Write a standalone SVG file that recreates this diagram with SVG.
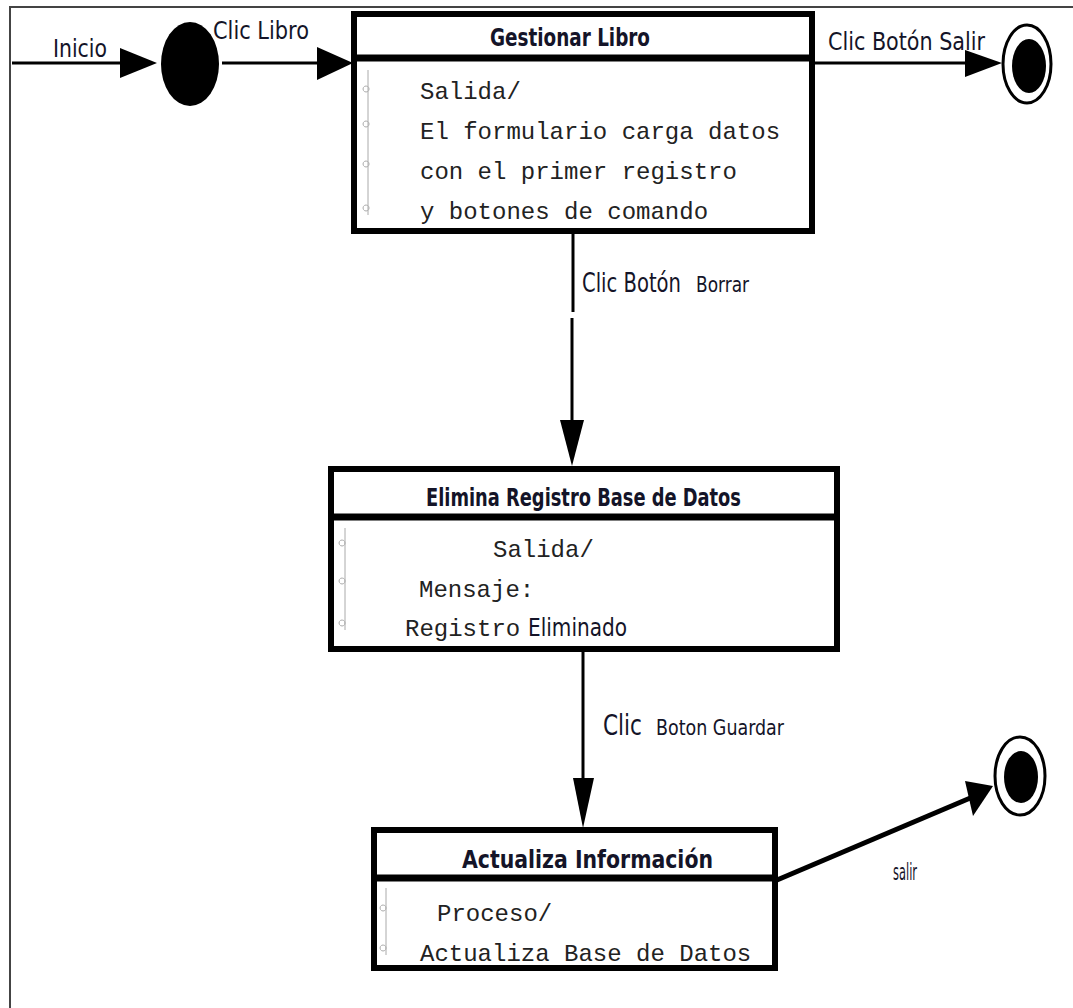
<svg xmlns="http://www.w3.org/2000/svg" width="1073" height="1008" viewBox="0 0 1073 1008">
<style>
.frame{fill:none;stroke:#444;stroke-width:2}
.box{fill:#fff;stroke:#000;stroke-width:6}
.sep{stroke:#000;stroke-width:7}
.ln{stroke:#000;stroke-width:3;fill:none}
.lnb{stroke:#000;stroke-width:5;fill:none}
.ah{fill:#000}
.lbl{font-family:"DejaVu Sans Condensed","DejaVu Sans",sans-serif;fill:#141428}
.hdr{font-family:"DejaVu Sans Condensed","DejaVu Sans",sans-serif;font-weight:bold;fill:#141428;font-size:24px}
.mono{font-family:"Liberation Mono","Courier New",monospace;font-size:24px;fill:#222}
.clip{fill:none;stroke:#aaa;stroke-width:1}
</style>
<rect width="1073" height="1008" fill="#fff"/>
<path class="frame" d="M10,1008 V7 H1073"/>

<g id="connectors">
  <line class="ln" x1="12" y1="63" x2="125" y2="63"/>
  <polygon class="ah" points="120,48 157,63 120,78"/>
  <text class="lbl" x="53" y="57" font-size="25" textLength="54" lengthAdjust="spacingAndGlyphs">Inicio</text>

  <line class="ln" x1="222" y1="63" x2="320" y2="63"/>
  <polygon class="ah" points="317,47 353,63 317,80"/>
  <text class="lbl" x="213" y="39" font-size="25" textLength="96" lengthAdjust="spacingAndGlyphs">Clic Libro</text>

  <line class="ln" x1="812" y1="63" x2="970" y2="63"/>
  <polygon class="ah" points="965,50 1002,63 965,77"/>
  <text class="lbl" x="828" y="50" font-size="25" textLength="157" lengthAdjust="spacingAndGlyphs">Clic Botón Salir</text>

  <line class="ln" x1="573" y1="233" x2="573" y2="312"/>
  <line class="ln" x1="572" y1="318" x2="572" y2="424"/>
  <polygon class="ah" points="560,420 584,420 572,466"/>
  <text class="lbl" x="582" y="292" font-size="26" textLength="99" lengthAdjust="spacingAndGlyphs">Clic Botón</text>
  <text class="lbl" x="696" y="292" font-size="21" textLength="53" lengthAdjust="spacingAndGlyphs">Borrar</text>

  <line class="ln" x1="583" y1="650" x2="583" y2="782"/>
  <polygon class="ah" points="573,778 594,778 583,828"/>
  <text class="lbl" x="603" y="735" font-size="29" textLength="39" lengthAdjust="spacingAndGlyphs">Clic</text>
  <text class="lbl" x="656" y="735" font-size="21" textLength="128" lengthAdjust="spacingAndGlyphs">Boton Guardar</text>

  <line class="lnb" x1="777" y1="880" x2="975" y2="796"/>
  <polygon class="ah" points="965,781 993,786 973,816"/>
  <text class="lbl" x="893" y="880" font-size="23" textLength="24" lengthAdjust="spacingAndGlyphs">salir</text>
</g>

<g id="initial">
  <ellipse cx="190" cy="64" rx="29" ry="42" fill="#000"/>
</g>

<g id="final1">
  <ellipse cx="1027" cy="64" rx="24" ry="39" fill="#fff" stroke="#000" stroke-width="3"/>
  <ellipse cx="1029" cy="66" rx="17" ry="27" fill="#000"/>
</g>

<g id="final2">
  <ellipse cx="1020" cy="776" rx="25" ry="39" fill="#fff" stroke="#000" stroke-width="3"/>
  <ellipse cx="1021" cy="777" rx="17" ry="26" fill="#000"/>
</g>

<g id="gestionar">
  <rect class="box" x="354" y="14" width="458" height="217"/>
  <line class="sep" x1="354" y1="58" x2="812" y2="58"/>
  <text class="hdr" x="490" y="46" textLength="160" lengthAdjust="spacingAndGlyphs">Gestionar Libro</text>
  <path class="clip" d="M368,70 V215 M366,86 a3,3 0 1 0 0.1,0 M366,121 a3,3 0 1 0 0.1,0 M366,161 a3,3 0 1 0 0.1,0 M366,205 a3,3 0 1 0 0.1,0"/>
  <text class="mono" x="420" y="99">Salida/</text>
  <text class="mono" x="420" y="139">El formulario carga datos</text>
  <text class="mono" x="420" y="179">con el primer registro</text>
  <text class="mono" x="420" y="219">y botones de comando</text>
</g>

<g id="elimina">
  <rect class="box" x="331" y="469" width="506" height="180"/>
  <line class="sep" x1="331" y1="517" x2="837" y2="517"/>
  <text class="hdr" x="426" y="506" textLength="315" lengthAdjust="spacingAndGlyphs">Elimina Registro Base de Datos</text>
  <path class="clip" d="M345,528 V630 M342,540 a3,3 0 1 0 0.1,0 M342,578 a3,3 0 1 0 0.1,0 M342,620 a3,3 0 1 0 0.1,0"/>
  <text class="mono" x="493" y="557">Salida/</text>
  <text class="mono" x="419" y="597">Mensaje:</text>
  <text class="mono" x="405" y="636">Registro</text>
  <text class="lbl" x="528" y="636" font-size="24" textLength="99" lengthAdjust="spacingAndGlyphs">Eliminado</text>
</g>

<g id="actualiza">
  <rect class="box" x="374" y="830" width="401" height="138"/>
  <line class="sep" x1="374" y1="878" x2="775" y2="878"/>
  <text class="hdr" x="462" y="868" textLength="251" lengthAdjust="spacingAndGlyphs">Actualiza Información</text>
  <path class="clip" d="M386,888 V955 M383,905 a3,3 0 1 0 0.1,0 M383,945 a3,3 0 1 0 0.1,0"/>
  <text class="mono" x="437" y="921">Proceso/</text>
  <text class="mono" x="420" y="961">Actualiza Base de Datos</text>
</g>
</svg>
